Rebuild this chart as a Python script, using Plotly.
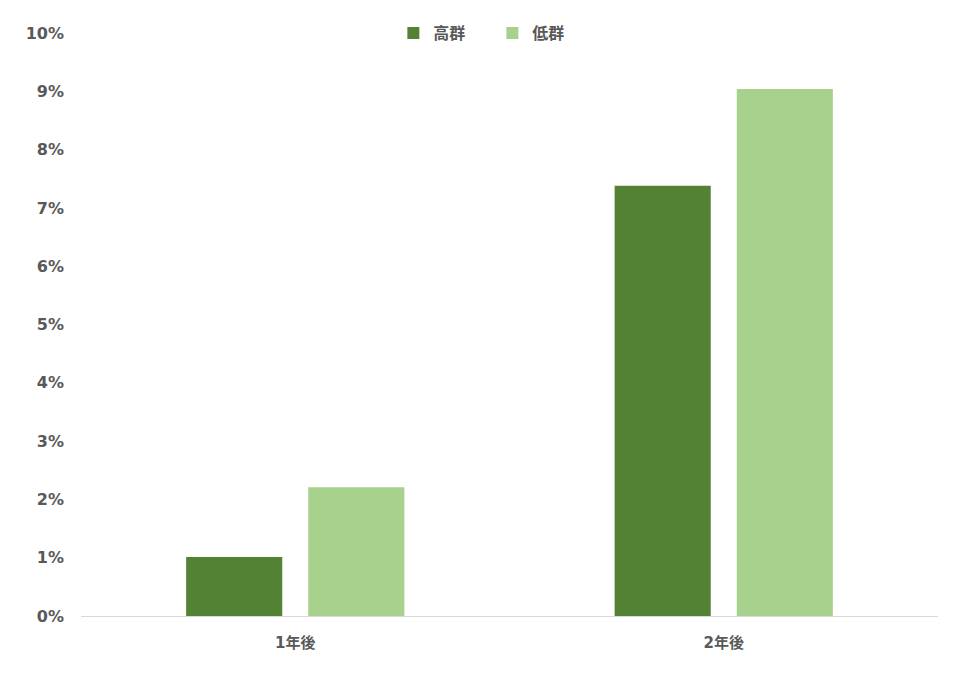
import plotly.graph_objects as go

categories = ["1年後", "2年後"]
high_group = [1.01, 7.38]
low_group = [2.21, 9.04]
series_names = ["高群", "低群"]
tick_vals = [0, 1, 2, 3, 4, 5, 6, 7, 8, 9, 10]
tick_text = [f"{v}%" for v in tick_vals]

font_family = "DejaVu Sans, Noto Sans CJK JP, sans-serif"

fig = go.Figure()
fig.add_trace(go.Bar(x=categories, y=high_group, name=series_names[0],
                     marker=dict(color="#548235", line=dict(width=0))))
fig.add_trace(go.Bar(x=categories, y=low_group, name=series_names[1],
                     marker=dict(color="#A9D18E", line=dict(width=0))))

fig.update_layout(
    width=969, height=695,
    margin=dict(l=73, r=39, t=25, b=87, autoexpand=False),
    plot_bgcolor="white", paper_bgcolor="white",
    barmode="group", bargap=0.43, bargroupgap=0.213,
    font=dict(family=font_family, size=15, color="#595959"),
    legend=dict(orientation="h", x=0.48, xanchor="center", y=1.0, yanchor="middle",
                font=dict(family=font_family, size=16, color="#595959", weight="bold"),
                itemwidth=30, entrywidth=54, traceorder="normal",
                bgcolor="rgba(0,0,0,0)"),
    xaxis=dict(showline=True, linecolor="#D9D9D9", linewidth=1, ticks="",
               automargin=False, ticklabelstandoff=13,
               tickfont=dict(family=font_family, size=15, color="#595959", weight="bold"),
               showgrid=False),
    yaxis=dict(range=[0, 10], tickvals=tick_vals, ticktext=tick_text, showgrid=False,
               automargin=False, zeroline=False, showline=False, ticks="", ticklabelstandoff=16,
               tickfont=dict(family=font_family, size=16, color="#595959", weight="bold")),
)

fig.write_html("out.html")
